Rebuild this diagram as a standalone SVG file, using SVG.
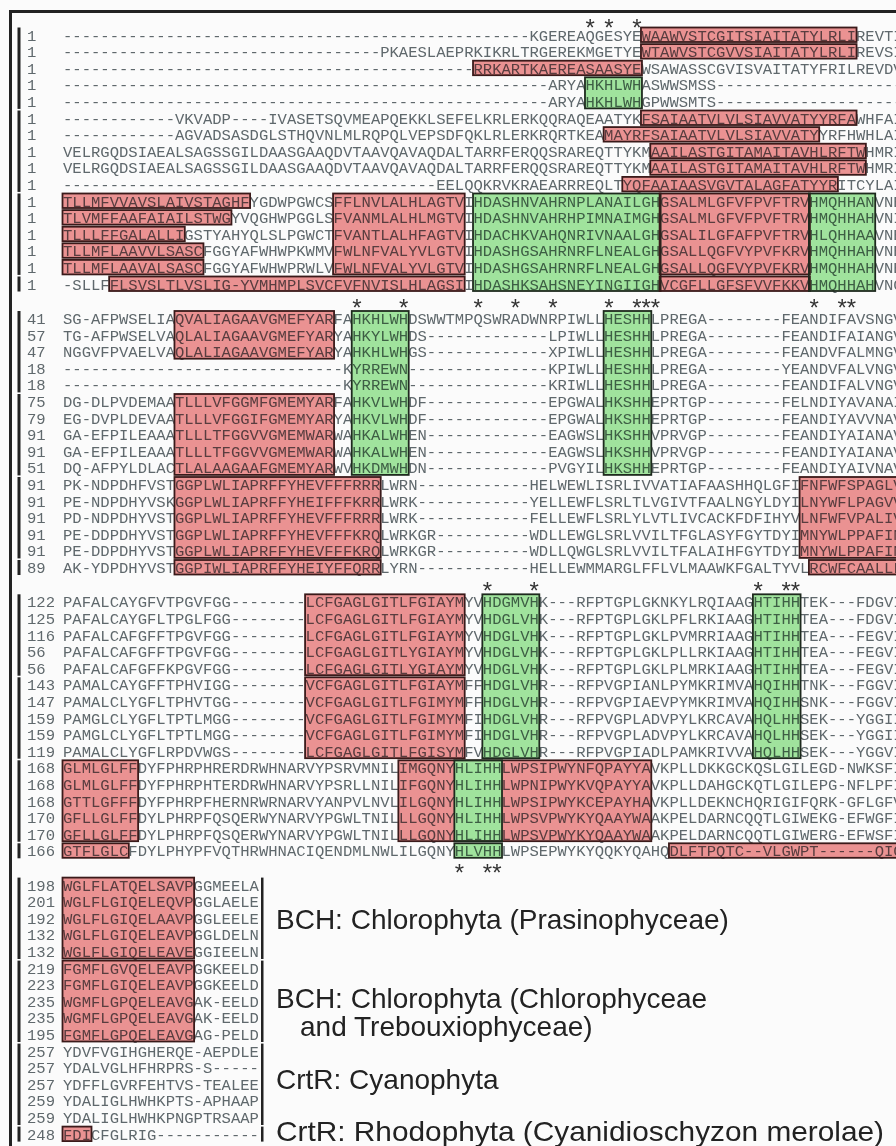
<svg xmlns="http://www.w3.org/2000/svg" width="896" height="1146" viewBox="0 0 896 1146">
<style>
.q{font-family:"Liberation Mono",monospace;font-size:15.55px;fill:#5f686c}
.st{font-family:"Liberation Sans",Arial,sans-serif;font-size:24px;fill:#333;text-anchor:middle}
.r{fill:#ee9494;mix-blend-mode:multiply}
.g{fill:#a3e7a0;mix-blend-mode:multiply}
.rb{fill:none;stroke:#3a1a1a;stroke-width:1.8}
.gb{fill:none;stroke:#1e2a1e;stroke-width:1.8}
.bar{fill:#222}
.lb{font-family:"Liberation Sans",Arial,sans-serif;font-size:28px;fill:#222}
</style>
<rect width="896" height="1146" fill="#fbfbfb"/>
<g id="frame">
<rect x="9" y="10" width="887" height="3" fill="#222"/>
<rect x="9" y="10" width="3" height="1136" fill="#222"/>
</g>
<g id="bars">
<rect class="bar" x="17.5" y="27.5" width="3" height="81.4"/><rect class="bar" x="17.5" y="110.5" width="3" height="81.4"/><rect class="bar" x="17.5" y="193.5" width="3" height="81.4"/><rect class="bar" x="17.5" y="276.5" width="3" height="15"/>
<rect class="bar" x="17.5" y="311" width="3" height="81.4"/><rect class="bar" x="17.5" y="394" width="3" height="81.4"/><rect class="bar" x="17.5" y="477" width="3" height="81.4"/><rect class="bar" x="17.5" y="560" width="3" height="15"/>
<rect class="bar" x="17.5" y="594.3" width="3" height="81.4"/><rect class="bar" x="17.5" y="677.3" width="3" height="81.4"/><rect class="bar" x="17.5" y="760.3" width="3" height="81.4"/><rect class="bar" x="17.5" y="843.3" width="3" height="15"/>
<rect class="bar" x="17.5" y="877.6" width="3" height="81.4"/><rect class="bar" x="17.5" y="960.6" width="3" height="81.4"/><rect class="bar" x="17.5" y="1043.6" width="3" height="81.4"/><rect class="bar" x="17.5" y="1126.6" width="3" height="15"/>
<rect class="bar" x="261" y="877.6" width="2.5" height="81.4"/><rect class="bar" x="261" y="960.6" width="2.5" height="81.4"/><rect class="bar" x="261" y="1043.6" width="2.5" height="81.4"/><rect class="bar" x="261" y="1126.6" width="2.5" height="15"/>
</g>
<g id="block1" class="q">
<text x="27" y="40.5">1</text><text x="63" y="40.5">--------------------------------------------------KGEREAQGESYEWAAWVSTCGITSIAITATYLRLIREVTI</text>
<text x="27" y="57.1">1</text><text x="63" y="57.1">----------------------------------PKAESLAEPRKIKRLTRGEREKMGETYEWTAWVSTCGVVSIAITATYLRLIREVSI</text>
<text x="27" y="73.7">1</text><text x="63" y="73.7">--------------------------------------------RRKARTKAEREASAASYEWSAWASSCGVISVAITATYFRILREVDV</text>
<text x="27" y="90.3">1</text><text x="63" y="90.3">----------------------------------------------------ARYAHKHLWHASWWSMSS--------------------</text>
<text x="27" y="106.9">1</text><text x="63" y="106.9">----------------------------------------------------ARYAHKHLWHGPWWSMTS--------------------</text>
<text x="27" y="123.5">1</text><text x="63" y="123.5">------------VKVADP----IVASETSQVMEAPQEKKLSEFELKRLERKQQRAQEAATYKFSAIAATVLVLSIAVVATYYRFAWHFAI</text>
<text x="27" y="140.1">1</text><text x="63" y="140.1">------------AGVADSASDGLSTHQVNLMLRQPQLVEPSDFQKLRLERKRQRTKEAMAYRFSAIAATVLVLSIAVVATYYRFHWHLAI</text>
<text x="27" y="156.7">1</text><text x="63" y="156.7">VELRGQDSIAEALSAGSSGILDAASGAAQDVTAAVQAVAQDALTARRFERQQSRAREQTTYKMAAILASTGITAMAITAVHLRFTWHMRI</text>
<text x="27" y="173.3">1</text><text x="63" y="173.3">VELRGQDSIAEALSAGSSGILDAASGAAQDVTAAVQAVAQDALTARRFERQQSRAREQTTYKMAAILASTGITAMAITAVHLRFTWHMRI</text>
<text x="27" y="189.9">1</text><text x="63" y="189.9">----------------------------------------EELQQKRVKRAEARRREQLTYQFAAIAASVGVTALAGFATYYRITCYLAI</text>
<text x="27" y="206.5">1</text><text x="63" y="206.5">TLLMFVVAVSLAIVSTAGHFYGDWPGWCSFFLNVLALHLAGTVIHDASHNVAHRNPLANAILGHGSALMLGFVFPVFTRVHMQHHANVNE</text>
<text x="27" y="223.1">1</text><text x="63" y="223.1">TLVMFFAAFAIAILSTWGYVQGHWPGGLSFVANMLALHLMGTVIHDASHNVAHRHPIMNAIMGHGSALMLGFVFPVFTRVHMQHHAHVNI</text>
<text x="27" y="239.7">1</text><text x="63" y="239.7">TLLLFFGALALLIGSTYAHYQLSLPGWCTFVANTLALHFAGTVIHDACHKVAHQNRIVNAALGHGSALILGFAFPVFTRVHLQHHAAVNE</text>
<text x="27" y="256.3">1</text><text x="63" y="256.3">TLLMFLAAVVLSASCFGGYAFWHWPKWMVFWLNFVALYVLGTVIHDASHGSAHRNRFLNEALGHGSALLQGFVYPVFKRVHMQHHAHVNE</text>
<text x="27" y="272.9">1</text><text x="63" y="272.9">TLLMFLAAVALSASCFGGYAFWHWPRWLVFWLNFVALYVLGTVIHDASHGSAHRNRFLNEALGHGSALLQGFVYPVFKRVHMQHHAHVNE</text>
<text x="27" y="289.5">1</text><text x="63" y="289.5">-SLLFFLSVSLTLVSLIG-YVMHMPLSVCFVFNVISLHLAGSIIHDASHKSAHSNEYINGIIGHVCGFLLGFSFVVFKKVHMQHHAHVNG</text>
</g>
<g id="block2" class="q">
<text x="27" y="324">41</text><text x="63" y="324">SG-AFPWSELIAQVALIAGAAVGMEFYARFAHKHLWHDSWWTMPQSWRADWNRPIWLLHESHHLPREGA--------FEANDIFAVSNGV</text>
<text x="27" y="340.6">57</text><text x="63" y="340.6">TG-AFPWSELVAQLALIAGAAVGMEFYARYAHKYLWHDS-------------LPIWLLHESHHLPREGA--------FEANDIFAIANGV</text>
<text x="27" y="357.2">47</text><text x="63" y="357.2">NGGVFPVAELVAQLALIAGAAVGMEFYARYAHKHLWHGS-------------XPIWLLHESHHLPREGA--------FEANDVFALMNGV</text>
<text x="27" y="373.8">18</text><text x="63" y="373.8">------------------------------KYRREWN---------------KPIWLLHESHHLPREGA--------YEANDVFALVNGV</text>
<text x="27" y="390.4">18</text><text x="63" y="390.4">------------------------------KYRREWN---------------KRIWLLHESHHLPREGA--------FEANDIFALVNGV</text>
<text x="27" y="407">75</text><text x="63" y="407">DG-DLPVDEMAATLLLVFGGMFGMEMYARFAHKVLWHDF-------------EPGWALHKSHHEPRTGP--------FELNDIYAVANAI</text>
<text x="27" y="423.6">79</text><text x="63" y="423.6">EG-DVPLDEVAATLLLVFGGIFGMEMYARYAHKVLWHDF-------------EPGWALHKSHHEPRTGP--------FEANDIYAVVNAV</text>
<text x="27" y="440.2">91</text><text x="63" y="440.2">GA-EFPILEAAATLLLTFGGVVGMEMWARWAHKALWHEN-------------EAGWSLHKSHHVPRVGP--------FEANDIYAIANAV</text>
<text x="27" y="456.8">91</text><text x="63" y="456.8">GA-EFPILEAAATLLLTFGGVVGMEMWARWAHKALWHEN-------------EAGWSLHKSHHVPRVGP--------FEANDIYAIANAV</text>
<text x="27" y="473.4">51</text><text x="63" y="473.4">DQ-AFPYLDLACTLALAAGAAFGMEMYARWVHKDMWHDN-------------PVGYILHKSHHEPRTGP--------FEANDIYAIVNAV</text>
<text x="27" y="490">91</text><text x="63" y="490">PK-NDPDHFVSTGGPLWLIAPRFFYHEVFFFRRRLWRN------------HELWEWLISRLIVVATIAFAASHHQLGFIFNFWFSPAGLV</text>
<text x="27" y="506.6">91</text><text x="63" y="506.6">PE-NDPDHYVSKGGPLWLIAPRFFYHEIFFFKRRLWRK------------YELLEWFLSRLTLVGIVTFAALNGYLDYILNYWFLPAGVV</text>
<text x="27" y="523.2">91</text><text x="63" y="523.2">PD-NDPDHYVSTGGPLWLIAPRFFYHEVFFFRRRLWRK------------FELLEWFLSRLYLVTLIVCACKFDFIHYVLNFWFVPALIV</text>
<text x="27" y="539.8">91</text><text x="63" y="539.8">PE-DDPDHYVSTGGPLWLIAPRFFYHEVFFFKRQLWRKGR----------WDLLEWGLSRLVVILTFGLASYFGYTDYIMNYWLPPAFIN</text>
<text x="27" y="556.4">91</text><text x="63" y="556.4">PE-DDPDHYVSTGGPLWLIAPRFFYHEVFFFKRQLWRKGR----------WDLLQWGLSRLVVILTFALAIHFGYTDYIMNYWLPPAFIN</text>
<text x="27" y="573">89</text><text x="63" y="573">AK-YDPDHYVSTGGPIWLIAPRFFYHEIYFFQRRLYRN------------HELLEWMMARGLFFLVLMAAWKFGALTYVLRCWFCAALLL</text>
</g>
<g id="block3" class="q">
<text x="27" y="607.3">122</text><text x="63" y="607.3">PAFALCAYGFVTPGVFGG--------LCFGAGLGITLFGIAYMYVHDGMVHK---RFPTGPLGKNKYLRQIAAGHTIHHTEK---FDGVI</text>
<text x="27" y="623.9">125</text><text x="63" y="623.9">PAFALCAYGFLTPGLFGG--------LCFGAGLGITLFGIAYMYVHDGLVHK---RFPTGPLGKLPFLRKIAAGHTIHHTEA---FDGVI</text>
<text x="27" y="640.5">116</text><text x="63" y="640.5">PAFALCAFGFFTPGVFGG--------LCFGAGLGITLFGIAYMYVHDGLVHK---RFPTGPLGKLPVMRRIAAGHTIHHTEA---FEGVI</text>
<text x="27" y="657.1">56</text><text x="63" y="657.1">PAFALCAFGFFTPGVFGG--------LCFGAGLGITLYGIAYMYVHDGLVHK---RFPTGPLGKLPLLRKIAAGHTIHHTEA---FEGVI</text>
<text x="27" y="673.7">56</text><text x="63" y="673.7">PAFALCAFGFFKPGVFGG--------LCFGAGLGITLYGIAYMYVHDGLVHK---RFPTGPLGKLPLMRKIAAGHTIHHTEA---FEGVI</text>
<text x="27" y="690.3">143</text><text x="63" y="690.3">PAMALCAYGFFTPHVIGG--------VCFGAGLGITLFGIAYMFFHDGLVHR---RFPVGPIANLPYMKRIMVAHQIHHTNK---FGGVI</text>
<text x="27" y="706.9">147</text><text x="63" y="706.9">PAMALCLYGFLTPHVTGG--------VCFGAGLGITLFGIMYMFFHDGLVHR---RFPVGPIAEVPYMKRIMVAHQIHHSNK---FGGVI</text>
<text x="27" y="723.5">159</text><text x="63" y="723.5">PAMGLCLYGFLTPTLMGG--------VCFGAGLGITLFGIMYMFIHDGLVHR---RFPVGPLADVPYLKRCAVAHQLHHSEK---YGGII</text>
<text x="27" y="740.1">159</text><text x="63" y="740.1">PAMGLCLYGFLTPTLMGG--------VCFGAGLGITLFGIMYMFIHDGLVHR---RFPVGPLADVPYLKRCAVAHQLHHSEK---YGGII</text>
<text x="27" y="756.7">119</text><text x="63" y="756.7">PAMALCLYGFLRPDVWGS--------LCFGAGLGITLFGISYMFVHDGLVHR---RFPVGPIADLPAMKRIVVAHQLHHSEK---YGGVI</text>
<text x="27" y="773.3">168</text><text x="63" y="773.3">GLMLGLFFDYFPHRPHRERDRWHNARVYPSRVMNILIMGQNYHLIHHLWPSIPWYNFQPAYYAVKPLLDKKGCKQSLGILEGD-NWKSFI</text>
<text x="27" y="789.9">168</text><text x="63" y="789.9">GLMLGLFFDYFPHRPHTERDRWHNARVYPSRLLNILIFGQNYHLIHHLWPNIPWYKVQPAYYAVKPLLDAHGCKQTLGILEPG-NFLPFI</text>
<text x="27" y="806.5">168</text><text x="63" y="806.5">GTTLGFFFDYFPHRPFHERNRWRNARVYANPVLNVLILGQNYHLIHHLWPSIPWYKCEPAYHAVKPLLDEKNCHQRIGIFQRK-GFLGFV</text>
<text x="27" y="823.1">170</text><text x="63" y="823.1">GFLLGLFFDYLPHRPFQSQERWYNARVYPGWLTNILLLGQNYHLIHHLWPSVPWYKYQAAYWAAKPELDARNCQQTLGIWEKG-EFWGFI</text>
<text x="27" y="839.7">170</text><text x="63" y="839.7">GFLLGLFFDYLPHRPFQSQERWYNARVYPGWLTNILLLGQNYHLIHHLWPSVPWYKYQAAYWAAKPELDARNCQQTLGIWERG-EFWSFI</text>
<text x="27" y="856.3">166</text><text x="63" y="856.3">GTFLGLCFDYLPHYPFVQTHRWHNACIQENDMLNWLILGQNYHLVHHLWPSEPWYKYQQKYQAHQDLFTPQTC--VLGWPT------QIG</text>
</g>
<g id="block4" class="q">
<text x="27" y="890.6">198</text><text x="63" y="890.6">WGLFLATQELSAVPGGMEELA</text>
<text x="27" y="907.2">201</text><text x="63" y="907.2">WGLFLGIQELEQVPGGLAELE</text>
<text x="27" y="923.8">192</text><text x="63" y="923.8">WGLFLGIQELAAVPGGLEELE</text>
<text x="27" y="940.4">132</text><text x="63" y="940.4">WGLFLGIQELEAVPGGLDELN</text>
<text x="27" y="957">132</text><text x="63" y="957">WGLFLGIQELEAVEGGIEELN</text>
<text x="27" y="973.6">219</text><text x="63" y="973.6">FGMFLGVQELEAVPGGKEELD</text>
<text x="27" y="990.2">223</text><text x="63" y="990.2">FGMFLGIQELEAVPGGKEELD</text>
<text x="27" y="1006.8">235</text><text x="63" y="1006.8">WGMFLGPQELEAVGAK-EELD</text>
<text x="27" y="1023.4">235</text><text x="63" y="1023.4">WGMFLGPQELEAVGAK-EELD</text>
<text x="27" y="1040">195</text><text x="63" y="1040">FGMFLGPQELEAVGAG-PELD</text>
<text x="27" y="1056.6">257</text><text x="63" y="1056.6">YDVFVGIHGHERQE-AEPDLE</text>
<text x="27" y="1073.2">257</text><text x="63" y="1073.2">YDALVGLHFHRPRS-S-----</text>
<text x="27" y="1089.8">257</text><text x="63" y="1089.8">YDFFLGVRFEHTVS-TEALEE</text>
<text x="27" y="1106.4">259</text><text x="63" y="1106.4">YDALIGLHWHKPTS-APHAAP</text>
<text x="27" y="1123">259</text><text x="63" y="1123">YDALIGLHWHKPNGPTRSAAP</text>
<text x="27" y="1139.6">248</text><text x="63" y="1139.6">FDICFGLRIG-----------</text>
</g>
<g id="fills">
<rect class="r" x="640.96" y="27.5" width="215.59" height="14.5"/>
<rect class="r" x="640.96" y="44.1" width="215.59" height="14.5"/>
<rect class="r" x="473.02" y="60.7" width="168.94" height="14.5"/>
<rect class="g" x="584.98" y="77.3" width="56.98" height="31.1"/>
<rect class="r" x="640.96" y="110.5" width="215.59" height="14.5"/>
<rect class="r" x="603.64" y="127.1" width="215.59" height="14.5"/>
<rect class="r" x="650.29" y="143.7" width="215.59" height="14.5"/>
<rect class="r" x="650.29" y="160.3" width="215.59" height="14.5"/>
<rect class="r" x="622.3" y="176.9" width="215.59" height="14.5"/>
<rect class="r" x="62.5" y="193.5" width="187.6" height="14.5"/>
<rect class="r" x="62.5" y="210.1" width="168.94" height="14.5"/>
<rect class="r" x="62.5" y="226.7" width="122.29" height="14.5"/>
<rect class="r" x="62.5" y="243.3" width="140.95" height="14.5"/>
<rect class="r" x="62.5" y="259.9" width="140.95" height="14.5"/>
<rect class="r" x="333.07" y="193.5" width="131.62" height="80.9"/>
<rect class="r" x="109.15" y="276.5" width="355.54" height="14.5"/>
<rect class="g" x="473.02" y="193.5" width="187.6" height="97.5"/>
<rect class="r" x="659.62" y="193.5" width="150.28" height="80.9"/>
<rect class="r" x="659.62" y="276.5" width="150.28" height="14.5"/>
<rect class="g" x="808.9" y="193.5" width="66.31" height="97.5"/>
<rect class="r" x="174.46" y="311" width="159.61" height="47.7"/>
<rect class="g" x="351.73" y="311" width="56.98" height="163.9"/>
<rect class="g" x="603.64" y="311" width="47.65" height="163.9"/>
<rect class="r" x="174.46" y="394" width="159.61" height="80.9"/>
<rect class="r" x="174.46" y="477" width="206.26" height="80.9"/>
<rect class="r" x="174.46" y="560" width="206.26" height="14.5"/>
<rect class="r" x="799.57" y="477" width="110" height="80.9"/>
<rect class="r" x="808.9" y="560" width="110" height="14.5"/>
<rect class="r" x="305.08" y="594.3" width="159.61" height="80.9"/>
<rect class="r" x="305.08" y="677.3" width="159.61" height="80.9"/>
<rect class="g" x="482.35" y="594.3" width="56.98" height="163.9"/>
<rect class="g" x="752.92" y="594.3" width="47.65" height="163.9"/>
<rect class="r" x="62.5" y="760.3" width="75.64" height="80.9"/>
<rect class="r" x="62.5" y="843.3" width="66.31" height="14.5"/>
<rect class="r" x="398.38" y="760.3" width="55.98" height="80.9"/>
<rect class="r" x="502.01" y="760.3" width="149.28" height="80.9"/>
<rect class="g" x="454.36" y="760.3" width="47.65" height="80.9"/>
<rect class="g" x="454.36" y="843.3" width="47.65" height="14.5"/>
<rect class="r" x="668.95" y="843.3" width="240" height="14.5"/>
<rect class="r" x="62.5" y="877.6" width="131.62" height="80.9"/>
<rect class="r" x="62.5" y="960.6" width="131.62" height="80.9"/>
<rect class="r" x="62.5" y="1126.6" width="28.99" height="14.5"/>
</g>
<g id="borders">
<rect class="rb" x="640.96" y="27.5" width="215.59" height="14.5"/>
<rect class="rb" x="640.96" y="44.1" width="215.59" height="14.5"/>
<rect class="rb" x="473.02" y="60.7" width="168.94" height="14.5"/>
<rect class="gb" x="584.98" y="77.3" width="56.98" height="31.1"/>
<rect class="rb" x="640.96" y="110.5" width="215.59" height="14.5"/>
<rect class="rb" x="603.64" y="127.1" width="215.59" height="14.5"/>
<rect class="rb" x="650.29" y="143.7" width="215.59" height="14.5"/>
<rect class="rb" x="650.29" y="160.3" width="215.59" height="14.5"/>
<rect class="rb" x="622.3" y="176.9" width="215.59" height="14.5"/>
<rect class="rb" x="62.5" y="193.5" width="187.6" height="14.5"/>
<rect class="rb" x="62.5" y="210.1" width="168.94" height="14.5"/>
<rect class="rb" x="62.5" y="226.7" width="122.29" height="14.5"/>
<rect class="rb" x="62.5" y="243.3" width="140.95" height="14.5"/>
<rect class="rb" x="62.5" y="259.9" width="140.95" height="14.5"/>
<rect class="rb" x="333.07" y="193.5" width="131.62" height="80.9"/>
<rect class="rb" x="109.15" y="276.5" width="355.54" height="14.5"/>
<rect class="gb" x="473.02" y="193.5" width="187.6" height="97.5"/>
<rect class="rb" x="659.62" y="193.5" width="150.28" height="80.9"/>
<rect class="rb" x="659.62" y="276.5" width="150.28" height="14.5"/>
<rect class="gb" x="808.9" y="193.5" width="66.31" height="97.5"/>
<rect class="rb" x="174.46" y="311" width="159.61" height="47.7"/>
<rect class="gb" x="351.73" y="311" width="56.98" height="163.9"/>
<rect class="gb" x="603.64" y="311" width="47.65" height="163.9"/>
<rect class="rb" x="174.46" y="394" width="159.61" height="80.9"/>
<rect class="rb" x="174.46" y="477" width="206.26" height="80.9"/>
<rect class="rb" x="174.46" y="560" width="206.26" height="14.5"/>
<rect class="rb" x="799.57" y="477" width="110" height="80.9"/>
<rect class="rb" x="808.9" y="560" width="110" height="14.5"/>
<rect class="rb" x="305.08" y="594.3" width="159.61" height="80.9"/>
<rect class="rb" x="305.08" y="677.3" width="159.61" height="80.9"/>
<rect class="gb" x="482.35" y="594.3" width="56.98" height="163.9"/>
<rect class="gb" x="752.92" y="594.3" width="47.65" height="163.9"/>
<rect class="rb" x="62.5" y="760.3" width="75.64" height="80.9"/>
<rect class="rb" x="62.5" y="843.3" width="66.31" height="14.5"/>
<rect class="rb" x="398.38" y="760.3" width="252.91" height="80.9"/>
<rect class="gb" x="454.36" y="760.3" width="47.65" height="80.9"/>
<rect class="gb" x="454.36" y="843.3" width="47.65" height="14.5"/>
<rect class="rb" x="668.95" y="843.3" width="240" height="14.5"/>
<rect class="rb" x="62.5" y="877.6" width="131.62" height="80.9"/>
<rect class="rb" x="62.5" y="960.6" width="131.62" height="80.9"/>
<rect class="rb" x="62.5" y="1126.6" width="28.99" height="14.5"/>
</g>
<g id="stars" class="st">
<text x="590.2" y="36">*</text><text x="608.8" y="36">*</text><text x="636.8" y="36">*</text>
<text x="356.9" y="315.8">*</text><text x="403.6" y="315.8">*</text><text x="478.2" y="315.8">*</text><text x="515.5" y="315.8">*</text><text x="552.8" y="315.8">*</text><text x="608.8" y="315.8">*</text><text x="636.8" y="315.8">*</text><text x="646.1" y="315.8">*</text><text x="655.5" y="315.8">*</text><text x="814.1" y="315.8">*</text><text x="842.1" y="315.8">*</text><text x="851.4" y="315.8">*</text>
<text x="487.5" y="598.8">*</text><text x="534.2" y="598.8">*</text><text x="758.1" y="598.8">*</text><text x="786.1" y="598.8">*</text><text x="795.4" y="598.8">*</text>
<text x="459.5" y="880.5">*</text><text x="487.5" y="880.5">*</text><text x="496.8" y="880.5">*</text>
</g>
<g id="labels" class="lb">
<text x="276" y="929">BCH: Chlorophyta (Prasinophyceae)</text>
<text x="276" y="1008">BCH: Chlorophyta (Chlorophyceae</text>
<text x="300" y="1036">and Trebouxiophyceae)</text>
<text x="276" y="1089">CrtR: Cyanophyta</text>
<text x="276" y="1141" textLength="608" lengthAdjust="spacingAndGlyphs">CrtR: Rhodophyta (Cyanidioschyzon merolae)</text>
</g>
</svg>
